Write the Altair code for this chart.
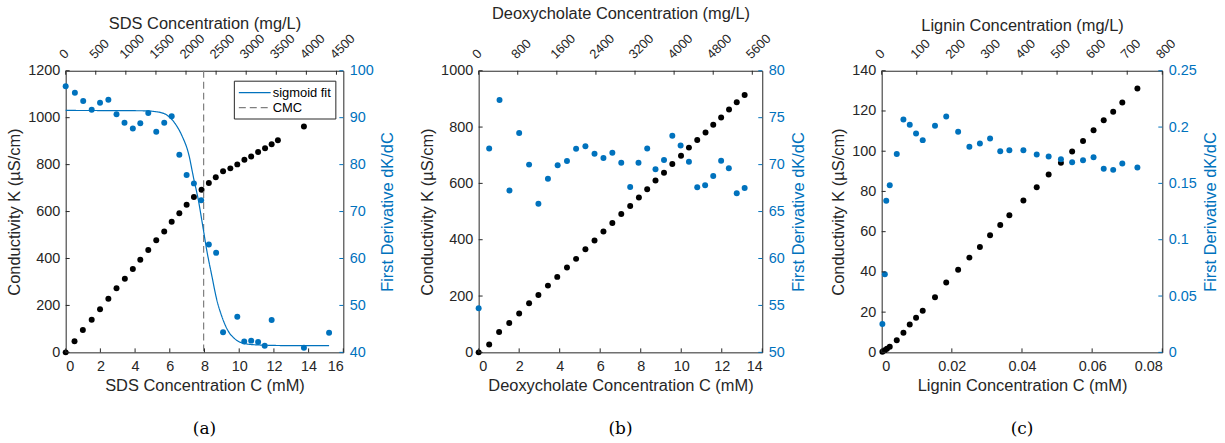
import altair as alt
import pandas as pd

BLUE = "#0072BD"
INK = "#262626"
GRAY = "#7f7f7f"
FONT = "Liberation Sans"

# ---------------- Panel (a): SDS ----------------
a_ck = [0, 0.51, 0.99, 1.50, 1.98, 2.46, 2.93, 3.41, 3.87, 4.30, 4.76, 5.22, 5.68, 6.11, 6.55,
        6.97, 7.39, 7.83, 8.25, 8.65, 9.07, 9.49, 9.89, 10.30, 10.69, 11.09, 11.49, 11.87, 12.23, 13.73]
a_k = [0, 47, 95, 139, 184, 228, 273, 314, 355, 395, 436, 478, 515, 557, 593,
       629, 662, 693, 722, 746, 772, 784, 801, 821, 835, 854, 870, 887, 904, 962]
a_cd = [0, 0.53, 1.01, 1.50, 1.98, 2.46, 2.93, 3.39, 3.87, 4.30, 4.76, 5.22, 5.68, 6.11, 6.55,
        6.97, 7.39, 7.81, 8.25, 8.67, 9.07, 9.89, 10.29, 10.69, 11.09, 11.47, 11.87, 13.73, 15.18]
a_d = [96.7, 95.3, 93.55, 91.7, 93.2, 93.8, 90.75, 88.9, 87.7, 88.8, 91.0, 87.0, 88.9, 90.3, 82.1,
       77.8, 76.0, 72.4, 63.0, 61.2, 44.3, 47.6, 42.3, 42.5, 42.2, 41.4, 46.9, 41.0, 44.2]
a_fit_c = [0, 4.42, 5.37, 5.94, 6.32, 6.70, 7.09, 7.37, 7.66, 7.89, 8.13, 8.42, 8.70, 8.99,
           9.37, 9.75, 10.32, 11.09, 12.99, 15.18]
a_fit_d = [91.54, 91.47, 91.18, 90.25, 88.67, 86.16, 82.21, 77.19, 72.16, 67.14, 61.75, 56.37,
           51.34, 47.75, 44.52, 42.87, 41.87, 41.58, 41.44, 41.44]
a_cmc = [7.95]
a_series = ["sigmoid fit", "CMC"]

# ---------------- Panel (b): Deoxycholate ----------------
b_ck = [0, 0.52, 1.01, 1.51, 2.0, 2.49, 2.95, 3.42, 3.88, 4.36, 4.81, 5.27, 5.72, 6.16, 6.60, 7.04,
        7.48, 7.91, 8.32, 8.73, 9.15, 9.56, 9.99, 10.38, 10.79, 11.2, 11.58, 11.97, 12.36, 12.74, 13.13]
b_k = [0, 28, 72, 104, 138, 174, 204, 237, 268, 301, 332, 366, 397, 429, 459, 491,
       520, 550, 579, 610, 638, 669, 698, 727, 754, 781, 808, 834, 862, 888, 914]
b_cd = [0, 0.52, 1.03, 1.52, 2.0, 2.49, 2.95, 3.42, 3.90, 4.36, 4.81, 5.27, 5.72, 6.16, 6.60, 7.04,
        7.48, 7.89, 8.32, 8.73, 9.15, 9.56, 9.97, 10.38, 10.79, 11.18, 11.58, 11.97, 12.35, 12.74, 13.13]
b_d = [54.69, 71.71, 76.89, 67.24, 73.36, 70.0, 65.84, 68.5, 69.93, 70.38, 71.68, 71.96, 71.15, 70.70,
       71.26, 70.21, 67.62, 70.21, 71.71, 69.51, 70.49, 73.08, 72.03, 70.31, 67.59, 67.80, 68.78,
       70.42, 69.62, 66.96, 67.52]

# ---------------- Panel (c): Lignin ----------------
c_ck = [0.0002, 0.0009, 0.0015, 0.0023, 0.0043, 0.0062, 0.0080, 0.0098, 0.0117, 0.0152, 0.0184,
        0.0218, 0.0250, 0.0280, 0.0309, 0.0338, 0.0364, 0.0404, 0.0442, 0.0476, 0.0511, 0.0543,
        0.0574, 0.0604, 0.0633, 0.0660, 0.0686, 0.0729]
c_k = [0.3, 1.0, 1.8, 2.8, 6.0, 9.8, 13.8, 17.2, 20.7, 27.4, 34.7, 41.1, 47.1, 52.4, 58.2, 63.3,
       68.2, 75.5, 82.1, 88.4, 94.2, 99.8, 105.1, 110.4, 115.4, 119.6, 124.2, 131.2]
c_cd = [0.0002, 0.0009, 0.0013, 0.0023, 0.0043, 0.0062, 0.0080, 0.0098, 0.0117, 0.0152, 0.0184,
        0.0218, 0.0250, 0.0280, 0.0309, 0.0338, 0.0364, 0.0404, 0.0442, 0.0476, 0.0511, 0.0543,
        0.0574, 0.0604, 0.0633, 0.0660, 0.0686, 0.0729]
c_d = [0.0252, 0.0693, 0.1345, 0.1484, 0.176, 0.2068, 0.202, 0.1943, 0.1884, 0.2011, 0.2094,
       0.1958, 0.1825, 0.1854, 0.1899, 0.1786, 0.1795, 0.1795, 0.1757, 0.1739, 0.1715, 0.1688,
       0.1706, 0.1733, 0.1629, 0.1620, 0.1677, 0.1641]

H = 283
DOT = 36
LBL = 14.5
TOPLBL = 13


def sc(dom):
    return alt.Scale(domain=dom, nice=False, zero=False)


def tick_rules(vals, dom, side, W, H, color):
    L = 4
    m = alt.Chart(pd.DataFrame({"v": vals})).mark_rule(color=color, strokeWidth=1)
    if side == "bottom":
        return m.encode(x=alt.X("v:Q", scale=sc(dom), axis=None), y=alt.value(H), y2=alt.value(H - L))
    if side == "top":
        return m.encode(x=alt.X("v:Q", scale=sc(dom), axis=None), y=alt.value(0), y2=alt.value(L))
    if side == "left":
        return m.encode(y=alt.Y("v:Q", scale=sc(dom), axis=None), x=alt.value(0), x2=alt.value(L))
    return m.encode(y=alt.Y("v:Q", scale=sc(dom), axis=None), x=alt.value(W), x2=alt.value(W - L))


def panel(ck, k, cd, d, xdom, xvals, xfmt, xtitle, ydom, yvals, yfmt, ytitle,
          rdom, rvals, rfmt, tdom, tvals, ttitle, tpad, W, H, caption, extra=None):
    blk = alt.Chart(pd.DataFrame({"C": ck, "K": k})).mark_circle(color="black", size=DOT, opacity=1).encode(
        x=alt.X("C:Q", scale=sc(xdom),
                axis=alt.Axis(orient="bottom", values=xvals, format=xfmt, title=xtitle,
                              labelPadding=7, titlePadding=5)),
        y=alt.Y("K:Q", scale=sc(ydom),
                axis=alt.Axis(orient="left", values=yvals, format=yfmt, title=ytitle,
                              labelPadding=6, titlePadding=5)),
    )
    blu = alt.Chart(pd.DataFrame({"C": cd, "D": d})).mark_circle(color=BLUE, size=DOT, opacity=1).encode(
        x=alt.X("C:Q", scale=sc(xdom), axis=None),
        y=alt.Y("D:Q", scale=sc(rdom),
                axis=alt.Axis(orient="right", values=rvals, format=rfmt, title="First Derivative dK/dC",
                              labelColor=BLUE, titleColor=BLUE, titleAngle=270, titleBaseline="top",
                              labelPadding=6, titlePadding=6)),
    )
    # top (mg/L) axis: title from the axis, rotated tick labels as text marks on the same scale
    top = alt.Chart(pd.DataFrame({"v": tvals})).mark_text(
        angle=315, align="left", baseline="middle", font=FONT, fontSize=TOPLBL, color=INK,
        dx=-2.8, dy=-2.8).encode(
        x=alt.X("v:Q", scale=sc(tdom),
                axis=alt.Axis(orient="top", labels=False, title=ttitle, titlePadding=tpad)),
        y=alt.value(-14),
        text=alt.Text("v:Q", format="d"),
    )
    layers = [blk, blu]
    if extra:
        layers += extra
    layers += [top,
               tick_rules(xvals, xdom, "bottom", W, H, INK),
               tick_rules(tvals, tdom, "top", W, H, INK),
               tick_rules(yvals, ydom, "left", W, H, INK),
               tick_rules(rvals, rdom, "right", W, H, BLUE)]
    return alt.layer(*layers).resolve_scale(x="independent", y="independent").properties(
        width=W, height=H,
        title=alt.TitleParams(caption, orient="bottom", font="DejaVu Serif", fontSize=17,
                              fontWeight="normal", color="black", offset=27),
    )


# legend-bearing extras for panel (a)
leg = alt.Legend(title=None, orient="none", legendX=169, legendY=10, fillColor="white", strokeColor=INK,
                 padding=4, rowPadding=0, labelFontSize=13, labelFont=FONT, labelColor="black",
                 symbolType="M-1,0H3.57", symbolSize=196, symbolStrokeWidth=1.3, labelOffset=19,
                 cornerRadius=0)
col = alt.Color("s:N", scale=alt.Scale(domain=a_series, range=[BLUE, GRAY]), legend=leg)
dash = alt.StrokeDash("s:N", scale=alt.Scale(domain=a_series, range=[[1, 0], [7, 4]]), legend=leg)

fit = alt.Chart(pd.DataFrame({"C": a_fit_c, "D": a_fit_d, "s": a_series[0]})).mark_line(
    strokeWidth=1.2, interpolate="monotone").encode(
    x=alt.X("C:Q", scale=sc([0, 16]), axis=None),
    y=alt.Y("D:Q", scale=sc([40, 100]), axis=None),
    color=col, strokeDash=dash,
)
cmc = alt.Chart(pd.DataFrame({"C": a_cmc, "s": [a_series[1]]})).mark_rule(strokeWidth=1.2).encode(
    x=alt.X("C:Q", scale=sc([0, 16]), axis=None),
    color=col, strokeDash=dash,
)

pa = panel(a_ck, a_k, a_cd, a_d,
           [0, 16], [0, 2, 4, 6, 8, 10, 12, 14, 16], "d", "SDS Concentration C (mM)",
           [0, 1200], [0, 200, 400, 600, 800, 1000, 1200], "d", "Conductivity K (µS/cm)",
           [40, 100], [40, 50, 60, 70, 80, 90, 100], "d",
           [0, 4614], [0, 500, 1000, 1500, 2000, 2500, 3000, 3500, 4000, 4500],
           "SDS Concentration (mg/L)", 39, 279, H, "(a)", extra=[cmc, fit])

pb = panel(b_ck, b_k, b_cd, b_d,
           [0, 14], [0, 2, 4, 6, 8, 10, 12, 14], "d", "Deoxycholate Concentration C (mM)",
           [0, 1000], [0, 200, 400, 600, 800, 1000], "d", "Conductivity K (µS/cm)",
           [50, 80], [50, 55, 60, 65, 70, 75, 80], "d",
           [0, 5804], [0, 800, 1600, 2400, 3200, 4000, 4800, 5600],
           "Deoxycholate Concentration (mg/L)", 49, 285, H, "(b)")

pc = panel(c_ck, c_k, c_cd, c_d,
           [0, 0.08], [0, 0.02, 0.04, 0.06, 0.08], ".2~f", "Lignin Concentration C (mM)",
           [0, 140], [0, 20, 40, 60, 80, 100, 120, 140], "d", "Conductivity K (µS/cm)",
           [0, 0.25], [0, 0.05, 0.1, 0.15, 0.2, 0.25], ".2~f",
           [0, 800], [0, 100, 200, 300, 400, 500, 600, 700, 800],
           "Lignin Concentration (mg/L)", 37, 282, H, "(c)")

chart = alt.hconcat(pa, pb, pc, spacing=22).properties(
    padding={"left": 6, "top": 4, "right": 5, "bottom": 5}, background="white"
).configure_view(stroke=INK, strokeWidth=1).configure_axis(
    labelFont=FONT, titleFont=FONT, labelFontSize=LBL, titleFontSize=16.5, labelColor=INK,
    titleColor=INK, titleFontWeight="normal", grid=False, ticks=False, domain=False,
)

chart.save("out.html", embed_options={"renderer": "svg", "actions": False})
